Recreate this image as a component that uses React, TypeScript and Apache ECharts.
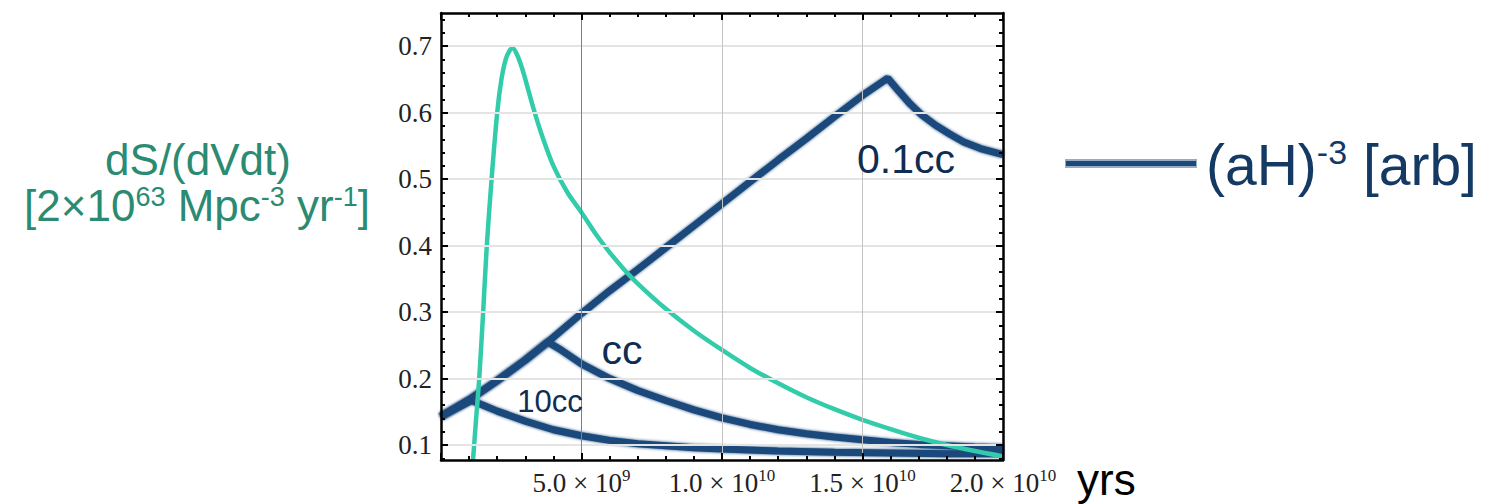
import React, { useEffect, useRef } from 'react';
import * as echarts from 'echarts';

// x in units of 1e9 years
const xTickLabels = [5, 10, 15, 20];
const yTickLabels = [0.1, 0.2, 0.3, 0.4, 0.5, 0.6, 0.7];
const yMinorTicks = [0.08, 0.12, 0.14, 0.16, 0.18, 0.22, 0.24, 0.26, 0.28, 0.32, 0.34, 0.36, 0.38, 0.42, 0.44, 0.46, 0.48, 0.52, 0.54, 0.56, 0.58, 0.62, 0.64, 0.66, 0.68, 0.72, 0.74];
const xGridLines = [5, 10, 15];

// dS/(dVdt) curve (teal)
const tealCurve: [number, number][] = [
  [1.14, 0.0775], [1.25, 0.14], [1.36, 0.2], [1.5, 0.3], [1.63, 0.4], [1.8, 0.5], [2.0, 0.6],
  [2.15, 0.65], [2.3, 0.68], [2.45, 0.694], [2.55, 0.697], [2.7, 0.688], [2.9, 0.665],
  [3.1, 0.635], [3.3, 0.605], [3.6, 0.565], [4.0, 0.52], [4.5, 0.48], [5.0, 0.45], [5.5, 0.418],
  [6.0, 0.39], [6.5, 0.365], [7.0, 0.343], [8.0, 0.305], [9.0, 0.272], [10, 0.243], [11, 0.216],
  [12, 0.193], [13, 0.172], [14, 0.154], [15, 0.138], [16, 0.124], [17, 0.111], [18, 0.1],
  [19, 0.091], [20, 0.083],
];

// (aH)^-3 curves (navy)
const curve01cc: [number, number][] = [
  [0.0, 0.143], [1, 0.168], [2, 0.197], [3, 0.228], [3.8, 0.255], [5, 0.298], [6, 0.332], [7, 0.364],
  [8, 0.397], [9, 0.43], [10, 0.463], [11, 0.496], [12, 0.529], [13, 0.561], [14, 0.594],
  [15, 0.626], [15.9, 0.652], [16.3, 0.632], [16.7, 0.613], [17.1, 0.597], [17.6, 0.581],
  [18.1, 0.568], [18.6, 0.556], [19.2, 0.546], [20, 0.537],
];
const curveCc: [number, number][] = [
  [0.0, 0.143], [1, 0.168], [2, 0.197], [3, 0.228], [3.8, 0.255], [4.2, 0.245], [5, 0.222],
  [6, 0.2], [7, 0.182], [8, 0.167], [9, 0.153], [10, 0.141], [11, 0.131], [12, 0.123],
  [13, 0.117], [14, 0.112], [15, 0.108], [16, 0.104], [17, 0.101], [18, 0.099], [19, 0.097], [20, 0.096],
];
const curve10cc: [number, number][] = [
  [0.0, 0.143], [1.09, 0.167], [1.5, 0.16], [2, 0.151], [3, 0.136], [4, 0.123], [5, 0.114],
  [6, 0.107], [7, 0.102], [8, 0.099], [9, 0.096], [10, 0.094], [12, 0.091], [14, 0.089],
  [16, 0.088], [18, 0.087], [20, 0.087],
];

const curveLabels = [
  { text: '0.1cc', coord: [16.55, 0.5305], size: 41 },
  { text: 'cc', coord: [6.44, 0.2425], size: 41 },
  { text: '10cc', coord: [3.88, 0.166], size: 31 },
];

const NAVY = '#1a4a7c';
const TEAL = '#33ccaa';
const LABEL_NAVY = '#0f2d52';
const TITLE_TEAL = '#2b8a72';
const SERIF = 'Liberation Serif';
const SANS = 'Liberation Sans';

function sciLabel(v: number): string {
  if (!xTickLabels.includes(v)) return '';
  const yrs = v * 1e9;
  const exp = Math.floor(Math.log10(yrs) + 1e-9);
  const mant = (yrs / Math.pow(10, exp)).toFixed(1);
  return `{b|${mant}}{m| × }{b|10}{s|${exp}}`;
}

const frameLine = { show: true, lineStyle: { color: '#000', width: 2.5 } };

function xAxisDef(position: 'top' | 'bottom', showLabels: boolean) {
  return {
    type: 'value',
    position,
    min: 0,
    max: 20,
    interval: 5,
    z: 10,
    axisLine: frameLine,
    axisTick: { show: true, inside: true, length: 7, lineStyle: { color: '#000', width: 2 } },
    minorTick: { show: true, splitNumber: 5, length: 4, lineStyle: { color: '#000', width: 2 } },
    splitLine: { show: false },
    minorSplitLine: { show: false },
    axisLabel: showLabels
      ? {
          show: true,
          margin: 7,
          showMinLabel: false,
          showMaxLabel: true,
          formatter: sciLabel,
          rich: {
            b: { fontFamily: SERIF, fontSize: 27, color: '#222', lineHeight: 32 },
            m: { fontFamily: SERIF, fontSize: 27, color: '#222', lineHeight: 32 },
            s: { fontFamily: SERIF, fontSize: 17, color: '#222', lineHeight: 10, verticalAlign: 'top' },
          },
        }
      : { show: false },
  };
}

function yAxisDef(position: 'left' | 'right', ticks: number[], len: number, showLine: boolean, showLabels: boolean) {
  return {
    type: 'value',
    position,
    min: 0.0775,
    max: 0.75,
    z: 10,
    axisLine: showLine ? frameLine : { show: false },
    axisTick: { show: true, inside: true, length: len, customValues: ticks, lineStyle: { color: '#000', width: 2 } },
    splitLine: { show: false },
    axisLabel: showLabels
      ? {
          show: true,
          customValues: ticks,
          margin: 9,
          fontFamily: SERIF,
          fontSize: 27,
          color: '#222',
          formatter: (v: number) => v.toFixed(1),
        }
      : { show: false },
  };
}

function navySeries(name: string, data: [number, number][], label: { text: string; coord: number[]; size: number }) {
  return {
    name,
    type: 'line',
    data,
    symbol: 'none',
    showSymbol: false,
    z: 3,
    lineStyle: { color: NAVY, width: 7, shadowBlur: 3, shadowColor: NAVY },
    markPoint: {
      silent: true,
      symbol: 'circle',
      symbolSize: 1,
      itemStyle: { color: 'rgba(0,0,0,0)' },
      label: {
        show: true,
        position: 'inside',
        formatter: label.text,
        fontFamily: SANS,
        fontSize: label.size,
        color: LABEL_NAVY,
      },
      data: [{ coord: label.coord }],
    },
  };
}

const titleRich = {
  a: { fontFamily: SANS, fontSize: 44, lineHeight: 44, fill: TITLE_TEAL },
  s: { fontFamily: SANS, fontSize: 27, lineHeight: 30, verticalAlign: 'top', fill: TITLE_TEAL },
};

export default function App() {
  const ref = useRef<HTMLDivElement>(null);
  useEffect(() => {
    document.body.style.margin = '0';
    const chart = echarts.init(ref.current!, null, { renderer: 'svg', width: 1497, height: 504 });
    const option = {
      animation: false,
      backgroundColor: '#ffffff',
      grid: { left: 441, top: 13, width: 562, height: 447 },
      xAxis: [xAxisDef('bottom', true), xAxisDef('top', false)],
      yAxis: [
        yAxisDef('left', yTickLabels, 7, true, true),
        yAxisDef('left', yMinorTicks, 4, false, false),
        yAxisDef('right', yTickLabels, 7, true, false),
        yAxisDef('right', yMinorTicks, 4, false, false),
      ],
      series: [
        {
          name: 'grid',
          type: 'line',
          data: [],
          z: 1,
          silent: true,
          markLine: {
            silent: true,
            symbol: ['none', 'none'],
            label: { show: false },
            data: [
              ...yTickLabels.map((v) => ({ yAxis: v, lineStyle: { color: '#e4e4e4', width: 2, type: 'solid' } })),
              ...xGridLines.map((v, i) => ({
                xAxis: v,
                lineStyle: { color: i === 0 ? '#808080' : '#c4c4c4', width: 1, type: 'solid' },
              })),
            ],
          },
        },
        navySeries('10cc', curve10cc, curveLabels[2]),
        navySeries('cc', curveCc, curveLabels[1]),
        navySeries('0.1cc', curve01cc, curveLabels[0]),
        {
          name: 'dS/(dVdt)',
          type: 'line',
          data: tealCurve,
          symbol: 'none',
          showSymbol: false,
          smooth: 0.3,
          z: 4,
          lineStyle: { color: TEAL, width: 4.5 },
        },
      ],
      graphic: [
        {
          type: 'text',
          x: 198,
          y: 159,
          style: {
            text: '{a|dS/(dVdt)}',
            align: 'center',
            verticalAlign: 'middle',
            rich: titleRich,
          },
        },
        {
          type: 'text',
          x: 197,
          y: 205,
          style: {
            text: '{a|[2×10}{s|63}{a| Mpc}{s|-3}{a| yr}{s|-1}{a|]}',
            align: 'center',
            verticalAlign: 'middle',
            rich: titleRich,
          },
        },
        {
          type: 'rect',
          shape: { x: 1065, y: 159, width: 132, height: 9 },
          style: { fill: NAVY, opacity: 0.45 },
        },
        {
          type: 'rect',
          shape: { x: 1066, y: 161, width: 130, height: 5 },
          style: { fill: NAVY },
        },
        {
          type: 'text',
          x: 1206,
          y: 165,
          style: {
            text: '{a|(aH)}{s|-3}{a| [arb]}',
            align: 'left',
            verticalAlign: 'middle',
            rich: {
              a: { fontFamily: SANS, fontSize: 57, lineHeight: 60, fill: '#143a63' },
              s: { fontFamily: SANS, fontSize: 34, lineHeight: 40, verticalAlign: 'top', fill: '#143a63' },
            },
          },
        },
        {
          type: 'text',
          x: 1077,
          y: 479,
          style: { text: 'yrs', fontFamily: SANS, fontSize: 44, fill: '#000', align: 'left', verticalAlign: 'middle' },
        },
      ],
    };
    chart.setOption(option as any);
    return () => chart.dispose();
  }, []);
  return <div ref={ref} style={{ width: 1497, height: 504, background: '#fff' }} />;
}
